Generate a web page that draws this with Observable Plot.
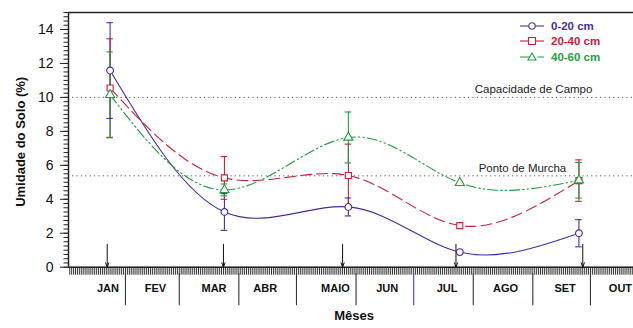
<!DOCTYPE html>
<html>
<head>
<meta charset="utf-8">
<script src="https://cdn.jsdelivr.net/npm/d3@7"></script>
<script src="https://cdn.jsdelivr.net/npm/@observablehq/plot@0.6"></script>
<style>
  html, body { margin: 0; padding: 0; background: #fff; }
  #wrap { position: relative; width: 633px; height: 328px; font-family: "Liberation Sans", Arial, sans-serif; }
  #legend { position: absolute; left: 519px; top: 18px; font-weight: bold; font-size: 11.5px; }
  #legend .row { display: flex; align-items: center; height: 15.5px; }
  #legend svg { margin-right: 6px; }
</style>
</head>
<body>
<div id="wrap"><div id="legend"></div></div>
<script>
// ---- data ----
const depths = ["0-20 cm", "20-40 cm", "40-60 cm"];
const sampleDay = [23, 82.5, 147, 205, 267];          // collection dates (day of year)
const arrowDay = [21.5, 82, 144, 203, 269];           // arrows marking sampling dates
const mean020 = [11.58, 3.25, 3.55, 0.89, 2.0];
const err020  = [2.82, 1.08, 0.53, 0, 0.8];
const mean2040 = [10.55, 5.26, 5.40, 2.45, 5.10];
const err2040  = [2.90, 1.26, 1.85, 0, 1.22];
const mean4060 = [10.15, 4.55, 7.64, 4.97, 5.12];
const err4060  = [2.53, 0.35, 1.50, 0, 1.05];
const monthNames = ["JAN", "FEV", "MAR", "ABR", "MAIO", "JUN", "JUL", "AGO", "SET", "OUT"];
const monthLabelDay = [21.9, 46.6, 77.1, 103.7, 140.3, 167.2, 198.4, 228.8, 259.8, 288.6];
const monthBoundary = [31, 59, 90, 120, 151, 181, 212, 243, 273];
const yTicks = [0, 2, 4, 6, 8, 10, 12, 14];
const refValues = [10, 5.38];
const refLabels = ["Capacidade de Campo", "Ponto de Murcha"];
const refLabelDay = [243.4, 237.6];

const colors = ["#4e2a9c", "#c4213d", "#1f9e3e"];
const dashes = [null, "11,5", "10,3,1.5,3,1.5,3"];
const symbols = ["circle", "square", "triangle"];

const means = [mean020, mean2040, mean4060];
const errs = [err020, err2040, err4060];
const rows = [];
depths.forEach((dep, k) => sampleDay.forEach((day, i) => rows.push({
  depth: dep, day, mean: means[k][i], err: errs[k][i]
})));
const months = monthNames.map((name, i) => ({name, day: monthLabelDay[i]}));
const refs = refValues.map((v, i) => ({v, label: refLabels[i], day: refLabelDay[i]}));

const xDomain = [1.35, 295.4];
const font = "Liberation Sans, Arial, sans-serif";

const seriesLines = depths.map((dep, k) => Plot.line(rows.filter(d => d.depth === dep), {
  x: "day", y: "mean", curve: "natural", stroke: colors[k], strokeWidth: 1.1,
  strokeDasharray: dashes[k]
}));
const bars = rows.filter(d => d.err > 0);

const chart = Plot.plot({
  width: 633, height: 328,
  marginLeft: 68, marginRight: 0, marginTop: 12, marginBottom: 61.3,
  style: {fontFamily: font, background: "white", color: "#111"},
  x: {domain: xDomain, axis: null},
  y: {domain: [0, 15], axis: null},
  color: {domain: depths, range: colors},
  symbol: {domain: depths, range: symbols},
  marks: [
    // reference dotted lines
    Plot.ruleY(refs, {y: "v", stroke: "#555", strokeDasharray: "1.2,3.2", strokeWidth: 1, insetLeft: 4}),
    Plot.text(refs, {x: "day", y: "v", text: "label", fontSize: 11.5, fill: "#222", lineAnchor: "bottom", dy: -4}),
    // y axis
    Plot.axisY(d3.range(0, 15.01, 0.25), {tickSize: 4.5, text: null, stroke: "#222", label: null}),
    Plot.axisY(yTicks, {tickSize: 8, tickPadding: 7, fontSize: 14, stroke: "#222", label: null}),
    Plot.text(["Umidade do Solo (%)"], {frameAnchor: "left", textAnchor: "middle", rotate: -90, dx: -48, dy: 2, fontWeight: "bold", fontSize: 13}),
    // x axis
    Plot.axisX(d3.range(2, 296, 1), {tickSize: 8, text: null, stroke: "#333", strokeWidth: 1, label: null}),
    Plot.ruleX(monthBoundary, {y1: () => -0.38, y2: () => -2.27, stroke: d => d === 181 ? "#5a3aa8" : "#333", strokeWidth: 1.1}),
    Plot.text(months, {x: "day", y: () => 0, text: "name", dy: 21, fontWeight: "bold", fontSize: 11}),
    Plot.text(["Mêses"], {frameAnchor: "bottom", dy: 53, dx: 3, fontWeight: "bold", fontSize: 13}),
    // frame lines
    Plot.ruleY([15], {stroke: "#222", strokeWidth: 1.5}),
    Plot.ruleX([xDomain[0]], {stroke: "#222", strokeWidth: 1.5}),
    Plot.ruleY([0], {stroke: "#222", strokeWidth: 1.5}),
    // arrows
    Plot.arrow(arrowDay, {x1: d => d, x2: d => d, y1: () => 1.35, y2: () => 0, stroke: "#111", strokeWidth: 1, headLength: 7, headAngle: 40}),
    // series curves
    ...seriesLines,
    // error bars
    Plot.ruleX(bars, {x: "day", y1: d => d.mean - d.err, y2: d => d.mean + d.err, stroke: "depth", strokeWidth: 1.1}),
    Plot.ruleY(bars, {y: d => d.mean + d.err, x1: d => d.day - 1.7, x2: d => d.day + 1.7, stroke: "depth", strokeWidth: 1.1}),
    Plot.ruleY(bars, {y: d => d.mean - d.err, x1: d => d.day - 1.7, x2: d => d.day + 1.7, stroke: "depth", strokeWidth: 1.1}),
    // markers
    Plot.dot(rows, {x: "day", y: "mean", symbol: "depth", stroke: "depth", fill: "white", r: 3.4, strokeWidth: 1.1})
  ]
});
document.getElementById("wrap").prepend(chart);

// legend
const legend = document.getElementById("legend");
const shapes = [
  '<circle cx="13" cy="6" r="3.2" fill="white" stroke="C" stroke-width="1.1"/>',
  '<rect x="9.5" y="2.5" width="7" height="7" fill="white" stroke="C" stroke-width="1.1"/>',
  '<path d="M13,2 L17,9 L9,9 Z" fill="white" stroke="C" stroke-width="1.1"/>'
];
depths.forEach((dep, k) => {
  const row = document.createElement("div");
  row.className = "row";
  const dash = k === 2 ? ' stroke-dasharray="10,3,1.5,3"' : "";
  row.innerHTML = `<svg width="26" height="12"><line x1="1" y1="6" x2="25" y2="6" stroke="${colors[k]}" stroke-width="1.1"${dash}/>${shapes[k].replace(/C/g, colors[k])}</svg><span style="color:${colors[k]}">${dep}</span>`;
  legend.appendChild(row);
});
</script>
</body>
</html>
